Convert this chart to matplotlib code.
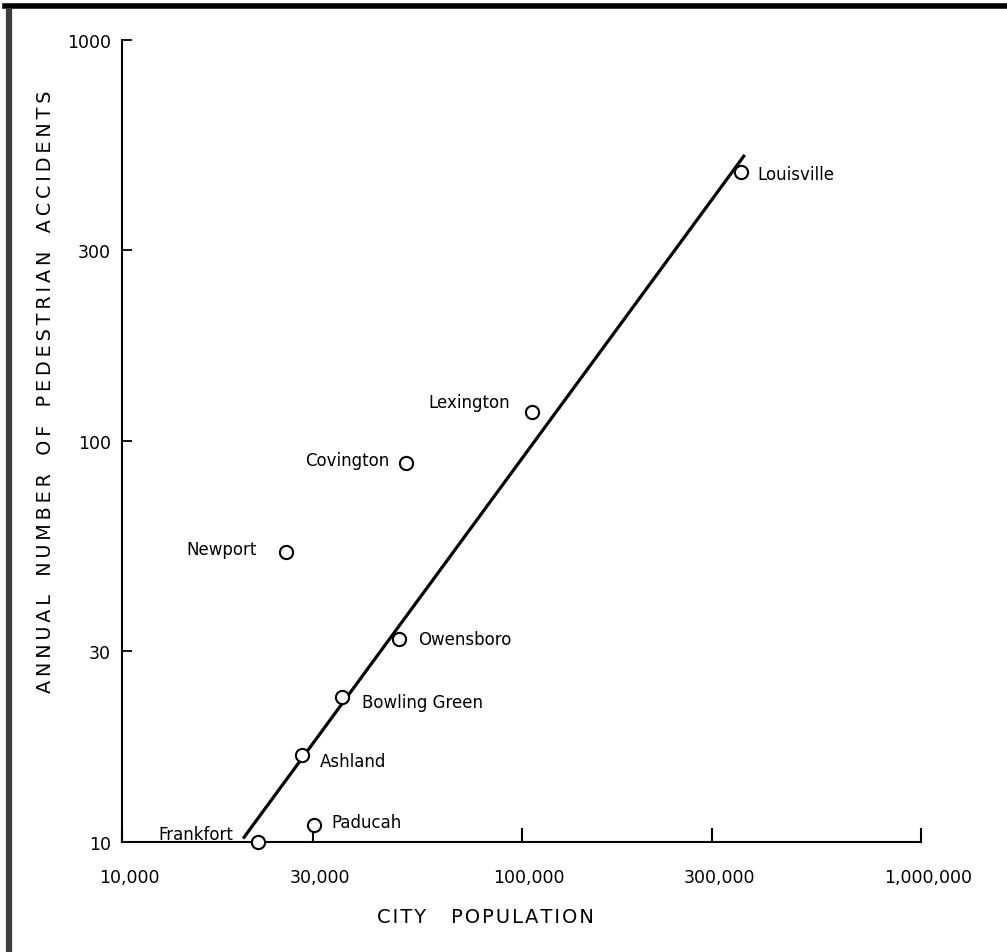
import numpy as np
import matplotlib
matplotlib.use('Agg')
import matplotlib.pyplot as plt
import matplotlib.transforms as mtransforms
from matplotlib.lines import Line2D

# city population vs annual pedestrian accidents
cities = ['Louisville', 'Lexington', 'Covington', 'Newport', 'Owensboro',
          'Bowling Green', 'Ashland', 'Paducah', 'Frankfort']
population = [354000, 106000, 51400, 25700, 49300, 35600, 28200, 30200, 21900]
accidents = [469, 118, 88, 53, 32, 23, 16.5, 11, 10]

# fitted line end points
fit_pop = [20100, 362000]
fit_acc = [10.2, 517]

# label offsets in pixels (dx, dy, alignment)
label_pos = {
    'Louisville': (17, -2, 'left'),
    'Lexington': (-22, 10, 'right'),
    'Covington': (-17, 3, 'right'),
    'Newport': (-29, 3, 'right'),
    'Owensboro': (19, 0, 'left'),
    'Bowling Green': (20, -5, 'left'),
    'Ashland': (18, -6, 'left'),
    'Paducah': (18, 3, 'left'),
    'Frankfort': (-25, 8, 'right'),
}

xticks = [10000, 30000, 100000, 300000, 1000000]
xlabels = ['10,000', '30,000', '100,000', '300,000', '1,000,000']
yticks = [10, 30, 100, 300, 1000]
ylabels = ['10', '30', '100', '300', '1000']

plt.rcParams['font.family'] = 'DejaVu Sans'

fig = plt.figure(figsize=(10.07, 9.53), dpi=100)
ax = fig.add_axes([122 / 1007, 110 / 953, 799 / 1007, 802 / 953])

ax.set_xscale('log')
ax.set_yscale('log')
ax.set_xlim(10000, 1000000)
ax.set_ylim(10, 1000)

# regression line
ax.plot(fit_pop, fit_acc, color='black', lw=2.3, solid_capstyle='butt', zorder=2)

# city points
ax.plot(population, accidents, 'o', ms=9.5, mfc='white', mec='black', mew=1.5,
        clip_on=False, zorder=3)

for name, x, y in zip(cities, population, accidents):
    dx, dy, ha = label_pos[name]
    ax.annotate(name, (x, y), xytext=(dx, dy), textcoords='offset pixels',
                ha=ha, va='center', fontsize=12, color='black')

ax.set_xticks(xticks)
ax.set_xticklabels(xlabels)
ax.set_yticks(yticks)
ax.set_yticklabels(ylabels)
ax.minorticks_off()

ax.tick_params(axis='x', direction='in', length=10, width=1.5, pad=19, labelsize=12.5)
ax.tick_params(axis='y', direction='in', length=7, width=1.3, pad=8, labelsize=12.5)

# shift x tick labels slightly right
offset = mtransforms.ScaledTranslation(7 / 100, 0, fig.dpi_scale_trans)
for lab in ax.get_xticklabels():
    lab.set_transform(lab.get_transform() + offset)

for side in ['top', 'right']:
    ax.spines[side].set_visible(False)
for side in ['left', 'bottom']:
    ax.spines[side].set_linewidth(1.5)

# axis titles
th = '\u2009'
ytitle = '   '.join(th.join(w) for w in ['ANNUAL', 'NUMBER', 'OF', 'PEDESTRIAN', 'ACCIDENTS'])
fig.text(46 / 1007, 1 - 392 / 953, ytitle, rotation=90, ha='center', va='center',
         fontsize=13.8)
fig.text(485 / 1007, 1 - 918 / 953, 'C\u200aI\u200aT\u200aY    P\u200aO\u200aP\u200aU\u200aL\u200aA\u200aT\u200aI\u200aO\u200aN',
         ha='center', va='center', fontsize=14)

# page edges
fig.add_artist(Line2D([5 / 1007, 1], [1 - 6.5 / 953, 1 - 6.5 / 953],
                      transform=fig.transFigure, color='black', lw=4))
fig.add_artist(Line2D([9 / 1007, 9 / 1007], [0, 1 - 12 / 953],
                      transform=fig.transFigure, color='#3c3c3c', lw=4.5))

fig.savefig('out.png', dpi=100)
